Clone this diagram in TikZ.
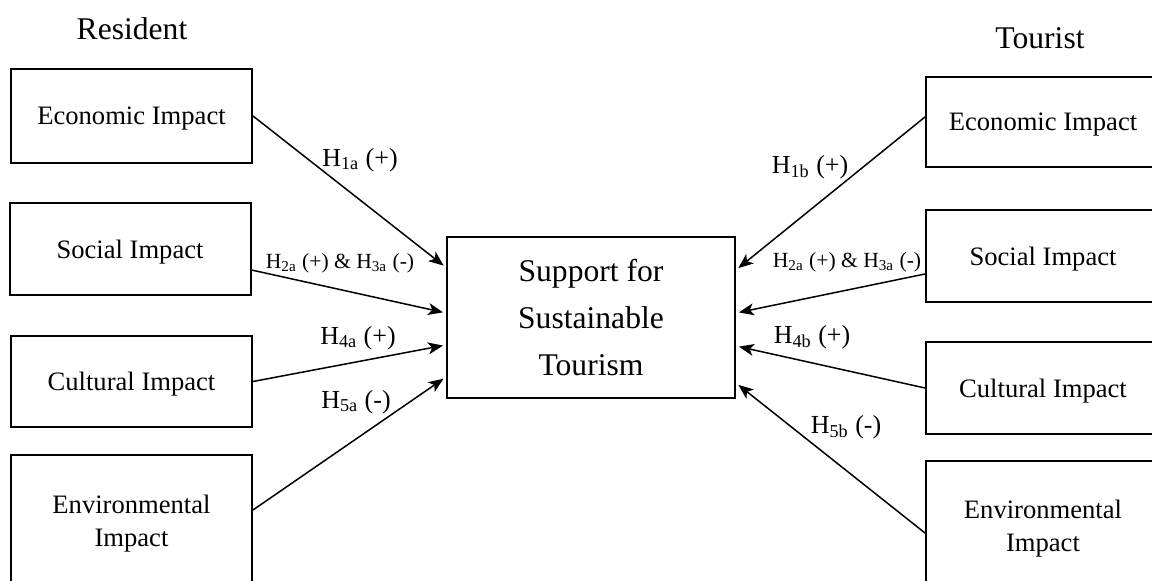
\documentclass[tikz,border=0pt]{standalone}
\usepackage{fontspec}
\setmainfont{Liberation Serif}
\usetikzlibrary{arrows.meta}

\begin{document}
\begin{tikzpicture}[
  x=0.5pt,
  y=-0.5pt,
  >=Stealth,
  impact/.style={draw, line width=1pt, inner sep=0pt, text depth=0pt, align=center, font=\fontsize{13.3}{16.5}\selectfont},
  resbox/.style={impact, minimum width=120.5pt},
  toubox/.style={impact, minimum width=117pt},
  core/.style={draw, line width=1pt, minimum width=144pt, minimum height=80.5pt, inner sep=0pt, text depth=0pt, align=center, font=\fontsize{15.8}{23.5}\selectfont},
  title/.style={font=\fontsize{15.8}{19}\selectfont},
  hyp/.style={font=\fontsize{13}{15}\selectfont, inner sep=1pt},
  hypsmall/.style={font=\fontsize{10.8}{13}\selectfont, inner sep=1pt},
  link/.style={->, line width=0.75pt, shorten >=1.5pt, >={Stealth[length=7.5pt,width=6pt,inset=2pt]}}
]
\useasboundingbox (0,0) rectangle (1152,581);
\clip (0,0) rectangle (1152,581);

\node[title] (resident) at (132,29) {Resident};
\node[title] (tourist) at (1040,38) {Tourist};

% resident side
\node[resbox, minimum height=47pt] (resEco) at (131.5,116) {Economic Impact};
\node[resbox, minimum height=46pt] (resSoc) at (130,249) {Social Impact};
\node[resbox, minimum height=45.5pt] (resCul) at (131.5,381.5) {Cultural Impact};
\node[resbox, minimum height=66pt] (resEnv) at (131.5,521) {Environmental\\Impact};

% tourist side
\node[toubox, minimum height=45pt] (touEco) at (1043,122) {Economic Impact};
\node[toubox, minimum height=46pt] (touSoc) at (1043,256) {Social Impact};
\node[toubox, minimum height=46pt] (touCul) at (1043,388) {Cultural Impact};
\node[toubox, minimum height=65pt] (touEnv) at (1043,526) {Environmental\\Impact};

\node[core] (support) at (591,317.5) {Support for\\Sustainable\\Tourism};

\draw[link] (resEco.east) -- ([yshift=25pt]support.west);
\draw[link] ([yshift=-10.5pt]resSoc.east) -- ([yshift=2.25pt]support.west);
\draw[link] (resCul.east) -- ([yshift=-13.75pt]support.west);
\draw[link] ([yshift=5.5pt]resEnv.east) -- ([yshift=-29.75pt]support.west);

\draw[link] ([yshift=2.5pt]touEco.west) -- ([yshift=23.75pt]support.east);
\draw[link] ([yshift=-9pt]touSoc.west) -- ([yshift=2.25pt]support.east);
\draw[link] (touCul.west) -- ([yshift=-14.25pt]support.east);
\draw[link] ([yshift=-3.5pt]touEnv.west) -- ([yshift=-32.75pt]support.east);

\node[hyp] (h1a) at (360,160) {H\textsubscript{1a} (+)};
\node[hypsmall] (h23a) at (340,263) {H\textsubscript{2a} (+) \& H\textsubscript{3a} (-)};
\node[hyp] (h4a) at (358,338) {H\textsubscript{4a} (+)};
\node[hyp] (h5a) at (356,402) {H\textsubscript{5a} (-)};

\node[hyp] (h1b) at (810,167) {H\textsubscript{1b} (+)};
\node[hypsmall] (h23b) at (847,262) {H\textsubscript{2a} (+) \& H\textsubscript{3a} (-)};
\node[hyp] (h4b) at (812,337) {H\textsubscript{4b} (+)};
\node[hyp] (h5b) at (846,427) {H\textsubscript{5b} (-)};
\end{tikzpicture}
\end{document}
